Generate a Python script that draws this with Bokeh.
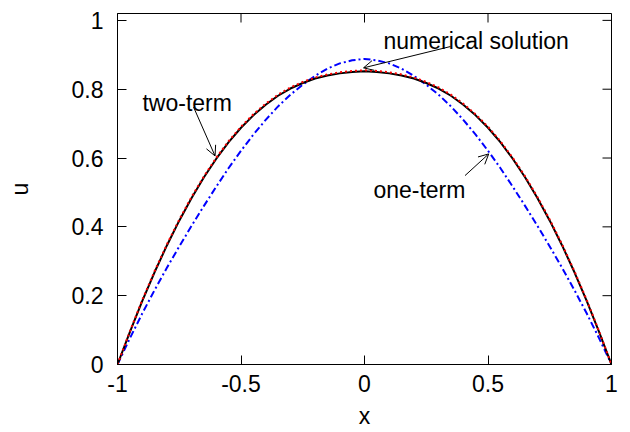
import math
from bokeh.plotting import figure
from bokeh.models import Range1d, FixedTicker, Label, Arrow, OpenHead
from bokeh.embed import file_html
from bokeh.resources import INLINE

# ---- data ----
x = [-1.00, -0.95, -0.90, -0.85, -0.80, -0.75, -0.70, -0.65, -0.60, -0.55,
     -0.50, -0.45, -0.40, -0.35, -0.30, -0.25, -0.20, -0.15, -0.10, -0.05,
     0.00, 0.05, 0.10, 0.15, 0.20, 0.25, 0.30, 0.35, 0.40, 0.45,
     0.50, 0.55, 0.60, 0.65, 0.70, 0.75, 0.80, 0.85, 0.90, 0.95, 1.00]

numerical = [0.000, 0.094, 0.184, 0.268, 0.346, 0.418, 0.484, 0.544, 0.598, 0.646,
             0.688, 0.724, 0.755, 0.781, 0.802, 0.818, 0.831, 0.840, 0.846, 0.850,
             0.852, 0.850, 0.846, 0.840, 0.831, 0.818, 0.802, 0.781, 0.755, 0.724,
             0.688, 0.646, 0.598, 0.544, 0.484, 0.418, 0.346, 0.268, 0.184, 0.094, 0.000]

two_term = [0.000, 0.096, 0.187, 0.271, 0.349, 0.421, 0.487, 0.547, 0.601, 0.649,
            0.691, 0.727, 0.758, 0.784, 0.805, 0.821, 0.834, 0.843, 0.849, 0.853,
            0.855, 0.853, 0.849, 0.843, 0.834, 0.821, 0.805, 0.784, 0.758, 0.727,
            0.691, 0.649, 0.601, 0.547, 0.487, 0.421, 0.349, 0.271, 0.187, 0.096, 0.000]

one_term = [0.000, 0.076, 0.148, 0.216, 0.281, 0.343, 0.403, 0.461, 0.517, 0.571,
            0.621, 0.668, 0.711, 0.750, 0.784, 0.813, 0.839, 0.860, 0.875, 0.884,
            0.888, 0.884, 0.875, 0.860, 0.839, 0.813, 0.784, 0.750, 0.711, 0.668,
            0.621, 0.571, 0.517, 0.461, 0.403, 0.343, 0.281, 0.216, 0.148, 0.076, 0.000]

x_ticks = [-1, -0.5, 0, 0.5, 1]
x_tick_labels = ["-1", "-0.5", "0", "0.5", "1"]
y_ticks = [0, 0.2, 0.4, 0.6, 0.8, 1]
y_tick_labels = ["0", "0.2", "0.4", "0.6", "0.8", "1"]

FONT = "Liberation Sans"
FS = "23px"

p = figure(width=630, height=432, x_range=Range1d(-1, 1), y_range=Range1d(0, 1.02),
           output_backend="svg", toolbar_location=None,
           min_border_left=117, min_border_right=19, min_border_top=13, min_border_bottom=68)
p.grid.visible = False
p.outline_line_color = "black"
p.outline_line_width = 1
p.background_fill_color = "white"
p.border_fill_color = "white"

for ax, ticks, labels in ((p.xaxis[0], x_ticks, x_tick_labels), (p.yaxis[0], y_ticks, y_tick_labels)):
    ax.ticker = FixedTicker(ticks=ticks)
    ax.major_label_overrides = {float(t): l for t, l in zip(ticks, labels)}
    ax.major_tick_in = 9
    ax.major_tick_out = 0
    ax.minor_tick_line_color = None
    ax.axis_line_color = "black"
    ax.major_tick_line_color = "black"
    ax.major_label_text_font = FONT
    ax.major_label_text_font_size = FS
    ax.major_label_text_color = "black"
    ax.axis_label_text_font = FONT
    ax.axis_label_text_font_size = FS
    ax.axis_label_text_font_style = "normal"
    ax.axis_label_text_color = "black"

p.xaxis[0].axis_label = "x"
p.yaxis[0].axis_label = "u"
p.xaxis[0].major_label_standoff = 10
p.xaxis[0].axis_label_standoff = 8
p.yaxis[0].major_label_standoff = 14
p.yaxis[0].axis_label_standoff = 36

# mirrored inward ticks on the top and right edges (half of each dash is clipped by the frame)
top_y = [p.y_range.end] * len(x_ticks)
right_x = [p.x_range.end] * len(y_ticks)
p.scatter(x_ticks, top_y, marker="dash", size=18, angle=math.pi / 2,
          line_color="black", line_width=1)
p.scatter(right_x, y_ticks, marker="dash", size=18,
          line_color="black", line_width=1)

p.line(x, one_term, line_color="#0000ff", line_width=2, line_dash="7 3 2 3")
p.line(x, numerical, line_color="black", line_width=2)
p.line(x, two_term, line_color="#ff0000", line_width=2, line_dash="2 3")

def label(xx, yy, txt):
    p.add_layout(Label(x=xx, y=yy, text=txt, text_font=FONT, text_font_size=FS,
                       text_color="black", text_baseline="alphabetic", text_align="left"))

def arrow(x0, y0, x1, y1):
    p.add_layout(Arrow(end=OpenHead(size=10, line_width=1, line_color="black"),
                       x_start=x0, y_start=y0, x_end=x1, y_end=y1,
                       line_width=1, line_color="black"))

label(0.077, 0.939, "numerical solution")
arrow(0.348, 0.924, -0.004, 0.862)
label(-0.899, 0.759, "two-term")
arrow(-0.692, 0.748, -0.605, 0.606)
label(0.036, 0.506, "one-term")
arrow(0.407, 0.549, 0.503, 0.612)

open("out.html", "w").write(file_html(p, INLINE))
